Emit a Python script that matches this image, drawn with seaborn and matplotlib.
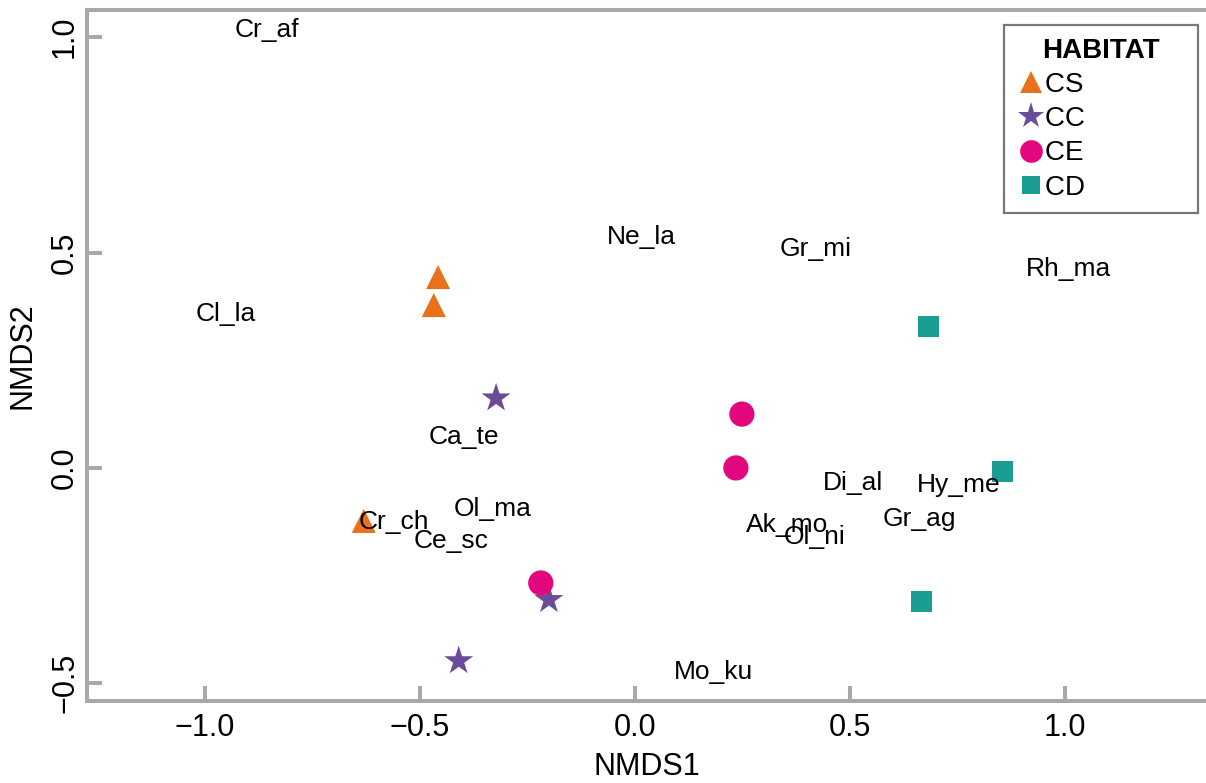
import matplotlib
matplotlib.use("Agg")
import matplotlib.pyplot as plt
import seaborn as sns
import pandas as pd

# Site scores (NMDS ordination)
site_habitat = ["CS", "CS", "CS", "CC", "CC", "CC", "CE", "CE", "CE", "CD", "CD", "CD"]
site_nmds1 = [-0.458, -0.468, -0.631, -0.323, -0.200, -0.410, 0.249, 0.235, -0.219, 0.684, 0.856, 0.666]
site_nmds2 = [0.443, 0.378, -0.123, 0.162, -0.306, -0.448, 0.125, 0.000, -0.267, 0.329, -0.009, -0.311]

# Species scores
species_names = ["Cr_af", "Cl_la", "Ne_la", "Gr_mi", "Rh_ma", "Ca_te", "Cr_ch", "Ol_ma",
                 "Ce_sc", "Di_al", "Hy_me", "Gr_ag", "Ak_mo", "Ol_ni", "Mo_ku"]
species_nmds1 = [-0.856, -0.952, 0.014, 0.421, 1.008, -0.398, -0.561, -0.330,
                 -0.428, 0.507, 0.754, 0.663, 0.354, 0.419, 0.184]
species_nmds2 = [1.016, 0.357, 0.536, 0.508, 0.462, 0.072, -0.125, -0.095,
                 -0.169, -0.035, -0.039, -0.118, -0.132, -0.160, -0.473]

habitat_order = ["CS", "CC", "CE", "CD"]
habitat_colors = {"CS": "#e8711c", "CC": "#6b4c9a", "CE": "#e2067f", "CD": "#1a9e93"}
habitat_markers = {"CS": "^", "CC": "*", "CE": "o", "CD": "s"}
habitat_sizes = {"CS": 300, "CC": 480, "CE": 330, "CD": 230}

sns.set_theme(style="white")
plt.rcParams["font.family"] = ["Liberation Sans", "DejaVu Sans"]
plt.rcParams["text.color"] = "black"
plt.rcParams["axes.labelcolor"] = "black"

sites = pd.DataFrame({"NMDS1": site_nmds1, "NMDS2": site_nmds2, "HABITAT": site_habitat})

fig = plt.figure(figsize=(12.06, 7.83), dpi=100)
ax = fig.add_axes([87 / 1206, 1 - 701 / 783, 1 - 87 / 1206, (701 - 10) / 783])

sns.scatterplot(data=sites, x="NMDS1", y="NMDS2", hue="HABITAT", style="HABITAT",
                size="HABITAT", hue_order=habitat_order, style_order=habitat_order,
                size_order=habitat_order, palette=habitat_colors, markers=habitat_markers,
                sizes=habitat_sizes, linewidth=0, alpha=1, ax=ax, zorder=2)

for name, sx, sy in zip(species_names, species_nmds1, species_nmds2):
    ax.text(sx, sy, name, ha="center", va="center", fontsize=19, color="black", zorder=3)

ax.set_xlim(-1.275, 1.329)
ax.set_ylim(-0.541, 1.063)
ax.set_xticks([-1.0, -0.5, 0.0, 0.5, 1.0])
ax.set_yticks([-0.5, 0.0, 0.5, 1.0])
ax.set_xticklabels(["\u22121.0", "\u22120.5", "0.0", "0.5", "1.0"])
ax.set_yticklabels(["\u22120.5", "0.0", "0.5", "1.0"], rotation=90, va="center")
ax.tick_params(axis="both", bottom=True, left=True, direction="in", length=11, width=2.9,
               color="#a8a8a8", labelsize=22, labelcolor="black")
ax.tick_params(axis="x", pad=9)
ax.tick_params(axis="y", pad=5)

for side in ["left", "bottom", "top"]:
    ax.spines[side].set_color("#a8a8a8")
    ax.spines[side].set_linewidth(2.9)
ax.spines["right"].set_visible(False)

ax.set_xlabel("NMDS1", fontsize=22, labelpad=6, color="black")
ax.set_ylabel("NMDS2", fontsize=22, labelpad=9, color="black")

handles, labels = ax.get_legend_handles_labels()
pairs = [(h, l) for h, l in zip(handles, labels) if l in habitat_order]
# trailing spaces widen the entry column so the title sits centred above it
leg = ax.legend([p[0] for p in pairs], [p[1] + "             " for p in pairs],
                title="HABITAT", loc="upper right",
                bbox_to_anchor=(1198 / 1206, 1 - 25 / 783),
                bbox_transform=fig.transFigure, fontsize=20, title_fontsize=20,
                frameon=True, fancybox=False, handletextpad=0.0, handlelength=1.0,
                borderpad=0.45, labelspacing=0.3, markerscale=0.9, borderaxespad=0,
                alignment="center")
leg.get_title().set_fontweight("bold")
leg.get_title().set_color("black")
for t in leg.get_texts():
    t.set_color("black")
leg.get_frame().set_edgecolor("#777777")
leg.get_frame().set_linewidth(1.6)
leg.get_frame().set_alpha(1)

fig.savefig("out.png", dpi=100)
